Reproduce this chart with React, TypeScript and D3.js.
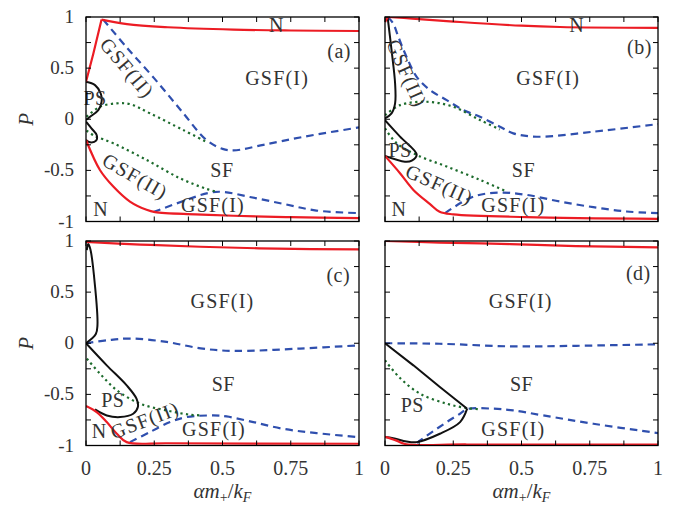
import React from "react";
import * as d3 from "d3";

type Pt = [number, number];

// ---------- data (x = αm+/kF, y = P) ----------
// Panel (a)
const aRedLeft: Pt[] = [[0, 0.366], [0.027, 0.643], [0.057, 0.975]];
const aRedTop: Pt[] = [[0.057, 0.975], [0.15, 0.93], [0.3, 0.9], [0.54, 0.877], [0.75, 0.868], [1, 0.863]];
const aRedBot: Pt[] = [[0, -0.203], [0.051, -0.496], [0.1, -0.658], [0.161, -0.805], [0.222, -0.886], [0.253, -0.908], [0.4, -0.93], [0.54, -0.944], [0.75, -0.958], [1, -0.967]];
const aBlueTop: Pt[] = [[0.063, 0.975], [0.15, 0.7], [0.25, 0.4], [0.35, 0.08], [0.44, -0.2], [0.5, -0.29], [0.54, -0.305], [0.65, -0.25], [0.8, -0.17], [1, -0.08]];
const aBlueBot: Pt[] = [[0.247, -0.908], [0.369, -0.788], [0.45, -0.72], [0.5, -0.71], [0.6, -0.76], [0.722, -0.827], [0.844, -0.893], [1, -0.918]];
const aGreenTop: Pt[] = [[0.002, 0.024], [0.051, 0.122], [0.112, 0.155], [0.161, 0.148], [0.234, 0.058], [0.356, -0.105], [0.44, -0.22]];
const aGreenBot: Pt[] = [[0.002, -0.11], [0.03, -0.16], [0.1, -0.235], [0.222, -0.398], [0.344, -0.577], [0.44, -0.68], [0.48, -0.71]];
const aBlack1: Pt[] = [[0, 0.366], [0.033, 0.334], [0.054, 0.252], [0.057, 0.171], [0.045, 0.09], [0.015, 0.024], [0, -0.008]];
const aBlack2: Pt[] = [[0, -0.024], [0.02, -0.089], [0.039, -0.154], [0.037, -0.21], [0.015, -0.226], [0, -0.203]];

// Panel (b)
const bRedLeft: Pt[] = [[0, 0.95], [0.01, 1.0]];
const bRedTop: Pt[] = [[0.01, 1.0], [0.1, 0.985], [0.275, 0.951], [0.5, 0.915], [0.641, 0.902], [1, 0.893]];
const bRedBot: Pt[] = [[0, -0.359], [0.055, -0.528], [0.104, -0.691], [0.165, -0.83], [0.2, -0.905], [0.25, -0.93], [0.519, -0.957], [1, -0.974]];
const bBlueTop: Pt[] = [[0.01, 1.0], [0.03, 0.936], [0.049, 0.805], [0.079, 0.61], [0.116, 0.415], [0.165, 0.285], [0.226, 0.187], [0.287, 0.09], [0.348, 0.024], [0.421, -0.073], [0.47, -0.138], [0.556, -0.171], [0.763, -0.122], [1, -0.047]];
const bBlueBot: Pt[] = [[0.22, -0.918], [0.324, -0.756], [0.421, -0.717], [0.519, -0.74], [0.641, -0.805], [0.763, -0.86], [0.885, -0.902], [1, -0.918]];
const bGreenTop: Pt[] = [[0, 0.04], [0.055, 0.138], [0.153, 0.171], [0.25, 0.122], [0.348, -0.008], [0.42, -0.1]];
const bGreenBot: Pt[] = [[0, -0.089], [0.043, -0.235], [0.116, -0.349], [0.226, -0.463], [0.348, -0.593], [0.44, -0.7]];
const bBlack1: Pt[] = [[0.01, 0.99], [0.024, 0.675], [0.037, 0.35], [0.037, 0.155], [0.024, 0.057], [0, 0.008]];
const bBlack2: Pt[] = [[0, -0.01], [0.055, -0.17], [0.116, -0.345], [0.098, -0.405], [0.073, -0.415], [0, -0.359]];

// Panel (c)
const cRedTop: Pt[] = [[0, 0.99], [0.2, 0.965], [0.418, 0.944], [0.7, 0.925], [1, 0.918]];
const cRedBot: Pt[] = [[0, -0.614], [0.039, -0.673], [0.076, -0.771], [0.113, -0.885], [0.149, -0.967], [0.3, -0.978], [1, -0.983]];
const cBlueTop: Pt[] = [[0, 0], [0.08, 0.03], [0.161, 0.046], [0.295, 0.013], [0.42, -0.05], [0.54, -0.075], [0.784, -0.052], [1, -0.02]];
const cBlueBot: Pt[] = [[0.161, -0.967], [0.234, -0.869], [0.308, -0.771], [0.369, -0.722], [0.466, -0.706], [0.515, -0.716], [0.613, -0.771], [0.723, -0.837], [0.845, -0.879], [1, -0.918]];
const cGreen: Pt[] = [[0.003, -0.15], [0.051, -0.297], [0.113, -0.46], [0.198, -0.591], [0.295, -0.657], [0.381, -0.699], [0.42, -0.705]];
const cBlack1: Pt[] = [[0.003, 0.91], [0.008, 0.97], [0.016, 0.92], [0.033, 0.56], [0.042, 0.18], [0.036, 0.09], [0, 0]];
const cBlack2: Pt[] = [[0, 0], [0.076, -0.216], [0.149, -0.412], [0.185, -0.542], [0.19, -0.624], [0.173, -0.689], [0.125, -0.722], [0.076, -0.706], [0.033, -0.647]];

// Panel (d)
const dRedTop: Pt[] = [[0, 1.0], [0.2, 0.985], [0.458, 0.97], [0.7, 0.95], [1, 0.938]];
const dRedBot: Pt[] = [[0, -0.915], [0.04, -0.95], [0.073, -0.985], [0.3, -0.99], [1, -0.99]];
const dBlueTop: Pt[] = [[0, 0], [0.2, -0.005], [0.458, -0.03], [0.7, -0.025], [1, -0.01]];
const dBlueBot: Pt[] = [[0.116, -0.974], [0.226, -0.771], [0.275, -0.689], [0.3, -0.645], [0.397, -0.64], [0.47, -0.657], [0.58, -0.706], [0.763, -0.787], [1, -0.879]];
const dGreen: Pt[] = [[0, -0.167], [0.055, -0.34], [0.128, -0.493], [0.226, -0.591], [0.299, -0.634], [0.342, -0.645]];
const dBlack1: Pt[] = [[0, 0], [0.104, -0.216], [0.201, -0.428], [0.301, -0.64]];
const dBlack2: Pt[] = [[0.301, -0.64], [0.275, -0.771], [0.201, -0.885], [0.116, -0.967], [0.079, -0.961], [0.03, -0.928], [0, -0.918]];

// Region labels: [text, x, y, rotation]
type Lab = [string, number, number, number];
const aLabels: Lab[] = [["N", 0.698, 0.92, 0], ["(a)", 0.927, 0.66, 0], ["GSF(I)", 0.70, 0.40, 0], ["GSF(II)", 0.15, 0.50, 50], ["PS", 0.033, 0.207, 0], ["SF", 0.498, -0.50, 0], ["GSF(II)", 0.18, -0.56, 30], ["GSF(I)", 0.465, -0.84, 0], ["N", 0.054, -0.88, 0]];
const bLabels: Lab[] = [["N", 0.702, 0.92, 0], ["(b)", 0.932, 0.70, 0], ["GSF(I)", 0.598, 0.40, 0], ["GSF(II)", 0.079, 0.448, 66], ["PS", 0.055, -0.30, 0], ["SF", 0.507, -0.50, 0], ["GSF(II)", 0.199, -0.64, 24], ["GSF(I)", 0.47, -0.84, 0], ["N", 0.051, -0.88, 0]];
const cLabels: Lab[] = [["(c)", 0.924, 0.667, 0], ["GSF(I)", 0.50, 0.405, 0], ["SF", 0.503, -0.40, 0], ["PS", 0.098, -0.56, 0], ["N", 0.048, -0.863, 0], ["GSF(II)", 0.216, -0.755, -21], ["GSF(I)", 0.469, -0.846, 0]];
const dLabels: Lab[] = [["(d)", 0.928, 0.683, 0], ["GSF(I)", 0.497, 0.405, 0], ["SF", 0.50, -0.40, 0], ["PS", 0.10, -0.608, 0], ["GSF(I)", 0.47, -0.843, 0]];

const xMinorTicks = [0, 0.125, 0.25, 0.375, 0.5, 0.625, 0.75, 0.875, 1];
const yMinorTicks = [-1, -0.75, -0.5, -0.25, 0, 0.25, 0.5, 0.75, 1];
const xTickValues = [0, 0.25, 0.5, 0.75, 1];
const xTickLabels = ["0", "0.25", "0.5", "0.75", "1"];
const yTickValues = [1, 0.5, 0, -0.5, -1];
const yTickLabels = ["1", "0.5", "0", "-0.5", "-1"];

// ---------- styles ----------
const COLORS: Record<string, string> = { red: "#ec1c24", blue: "#2f4fae", green: "#1c6b2c", black: "#111111" };
const DASH: Record<string, string | undefined> = { red: undefined, blue: "7.5 5", green: "2.2 3.4", black: undefined };
const FONT = "'Liberation Serif', 'Times New Roman', serif";
const TEXT = "#333333";

type LineSpec = { pts: Pt[]; kind: string; linear?: boolean };
type Panel = { id: string; left: number; top: number; lines: LineSpec[]; labels: Lab[]; xLabels: boolean; yLabels: boolean };

const W = 273;
const H = 204.5;

const panels: Panel[] = [
  {
    id: "a", left: 86, top: 17, xLabels: false, yLabels: true, labels: aLabels,
    lines: [
      { pts: aBlueTop, kind: "blue" }, { pts: aBlueBot, kind: "blue" },
      { pts: aGreenTop, kind: "green" }, { pts: aGreenBot, kind: "green" },
      { pts: aBlack1, kind: "black" }, { pts: aBlack2, kind: "black" },
      { pts: aRedLeft, kind: "red", linear: true }, { pts: aRedTop, kind: "red" }, { pts: aRedBot, kind: "red" },
    ],
  },
  {
    id: "b", left: 385, top: 17, xLabels: false, yLabels: false, labels: bLabels,
    lines: [
      { pts: bBlueTop, kind: "blue" }, { pts: bBlueBot, kind: "blue" },
      { pts: bGreenTop, kind: "green" }, { pts: bGreenBot, kind: "green" },
      { pts: bBlack1, kind: "black" }, { pts: bBlack2, kind: "black" },
      { pts: bRedLeft, kind: "red", linear: true }, { pts: bRedTop, kind: "red" }, { pts: bRedBot, kind: "red" },
    ],
  },
  {
    id: "c", left: 86, top: 241, xLabels: true, yLabels: true, labels: cLabels,
    lines: [
      { pts: cBlueTop, kind: "blue" }, { pts: cBlueBot, kind: "blue" },
      { pts: cGreen, kind: "green" },
      { pts: cBlack1, kind: "black" }, { pts: cBlack2, kind: "black" },
      { pts: cRedTop, kind: "red" }, { pts: cRedBot, kind: "red" },
    ],
  },
  {
    id: "d", left: 385, top: 241, xLabels: true, yLabels: false, labels: dLabels,
    lines: [
      { pts: dBlueTop, kind: "blue" }, { pts: dBlueBot, kind: "blue" },
      { pts: dGreen, kind: "green" },
      { pts: dBlack1, kind: "black", linear: true }, { pts: dBlack2, kind: "black" },
      { pts: dRedTop, kind: "red" }, { pts: dRedBot, kind: "red" },
    ],
  },
];

function PanelView({ p }: { p: Panel }) {
  const x = d3.scaleLinear().domain([0, 1]).range([p.left, p.left + W]);
  const y = d3.scaleLinear().domain([-1, 1]).range([p.top + H, p.top]);
  const smooth = d3.line<Pt>().x((d) => x(d[0])).y((d) => y(d[1])).curve(d3.curveCatmullRom.alpha(0.5));
  const straight = d3.line<Pt>().x((d) => x(d[0])).y((d) => y(d[1]));
  const clipId = `clip-${p.id}`;
  const tl = 5;
  return (
    <g>
      <defs>
        <clipPath id={clipId}>
          <rect x={p.left} y={p.top} width={W} height={H} />
        </clipPath>
      </defs>
      <g clipPath={`url(#${clipId})`}>
        {p.lines.map((l, i) => (
          <path
            key={i}
            d={(l.linear ? straight : smooth)(l.pts) || ""}
            fill="none"
            stroke={COLORS[l.kind]}
            strokeWidth={l.kind === "black" ? 2 : 2.2}
            strokeDasharray={DASH[l.kind]}
            strokeLinejoin="round"
          />
        ))}
      </g>
      {p.labels.map((lb, i) => (
        <text
          key={i}
          transform={`translate(${x(lb[1])},${y(lb[2])}) rotate(${lb[3]})`}
          textAnchor="middle"
          dy="0.33em"
          fontFamily={FONT}
          fontSize={20}
          letterSpacing={lb[0].startsWith("GSF") ? 1.2 : 0.5}
          fill={TEXT}
        >
          {lb[0]}
        </text>
      ))}
      <rect x={p.left} y={p.top} width={W} height={H} fill="none" stroke="#000" strokeWidth={1.3} />
      {xMinorTicks.map((t) => (
        <g key={`xt${t}`} stroke="#000" strokeWidth={1}>
          <line x1={x(t)} x2={x(t)} y1={p.top + H} y2={p.top + H - tl} />
          <line x1={x(t)} x2={x(t)} y1={p.top} y2={p.top + tl} />
        </g>
      ))}
      {yMinorTicks.map((t) => (
        <g key={`yt${t}`} stroke="#000" strokeWidth={1}>
          <line x1={p.left} x2={p.left + tl} y1={y(t)} y2={y(t)} />
          <line x1={p.left + W} x2={p.left + W - tl} y1={y(t)} y2={y(t)} />
        </g>
      ))}
      {p.yLabels &&
        yTickValues.map((t, i) => (
          <text key={`yl${t}`} x={p.left - 12} y={y(t) + 6} textAnchor="end" fontFamily={FONT} fontSize={19} fill={TEXT}>
            {yTickLabels[i]}
          </text>
        ))}
      {p.yLabels && (
        <text
          transform={`translate(${p.left - 60},${y(0)}) rotate(-90)`}
          textAnchor="middle"
          dy="0.33em"
          fontFamily={FONT}
          fontStyle="italic"
          fontSize={21}
          fill={TEXT}
        >
          P
        </text>
      )}
      {p.xLabels &&
        xTickValues.map((t, i) => (
          <text key={`xl${t}`} x={x(t)} y={p.top + H + 29} textAnchor="middle" fontFamily={FONT} fontSize={20} fill={TEXT}>
            {xTickLabels[i]}
          </text>
        ))}
      {p.xLabels && (
        <text x={x(0.5)} y={p.top + H + 52} textAnchor="middle" fontFamily={FONT} fontSize={21} fill={TEXT}>
          <tspan fontStyle="italic">αm</tspan>
          <tspan fontSize={14} dy={4}>+</tspan>
          <tspan dy={-4}>/</tspan>
          <tspan fontStyle="italic">k</tspan>
          <tspan fontStyle="italic" fontSize={14} dy={4}>F</tspan>
        </text>
      )}
    </g>
  );
}

export default function App() {
  return (
    <svg
      width={690}
      height={509}
      viewBox="0 0 690 509"
      style={{ position: "absolute", left: 0, top: 0, background: "#fff" }}
    >
      <rect x={0} y={0} width={690} height={509} fill="#fff" />
      {panels.map((p) => (
        <PanelView key={p.id} p={p} />
      ))}
    </svg>
  );
}
